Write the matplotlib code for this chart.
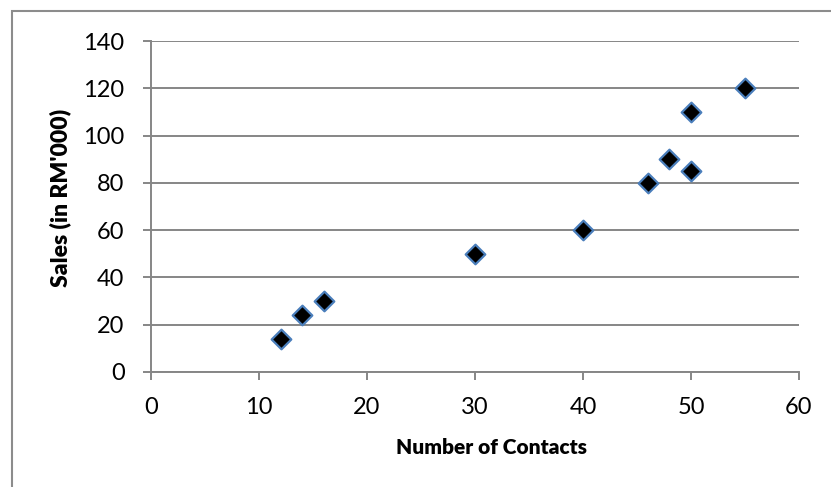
import matplotlib
matplotlib.use("Agg")
import matplotlib.pyplot as plt
import matplotlib.patches as mpatches

# contacts vs. sales
contacts = [12, 14, 16, 30, 40, 46, 48, 50, 50, 55]
sales = [14, 24, 30, 50, 60, 80, 90, 85, 110, 120]

x_ticks = [0, 10, 20, 30, 40, 50, 60]
y_ticks = [0, 20, 40, 60, 80, 100, 120, 140]

GRID = "#868686"

plt.rcParams["font.family"] = ["Lato", "DejaVu Sans"]

fig = plt.figure(figsize=(8.31, 4.87), dpi=100)
ax = fig.add_axes([151 / 831, 1 - 372 / 487, 648 / 831, 331 / 487])

# chart-area frame (open to the right/bottom)
fig.patches.append(mpatches.Rectangle(
    (12 / 831, -0.1), 1.2, 1 - 11 / 487 + 0.1,
    transform=fig.transFigure, fill=False, edgecolor="#8c8c8c",
    linewidth=1.5, zorder=0,
))

ax.scatter(contacts, sales, marker="D", s=100, facecolor="black",
           edgecolor="#4a7ebb", linewidth=1.6, zorder=3)

ax.set_xlim(0, 60)
ax.set_ylim(0, 140)
ax.set_xticks(x_ticks)
ax.set_yticks(y_ticks)
ax.yaxis.grid(True, color=GRID, linewidth=1.4)
ax.set_axisbelow(True)

for side in ("top", "right"):
    ax.spines[side].set_visible(False)
for side in ("left", "bottom"):
    ax.spines[side].set_color(GRID)
    ax.spines[side].set_linewidth(1.4)

ax.tick_params(axis="both", direction="out", length=6, width=1.4,
               color=GRID, labelsize=17, labelcolor="black")
ax.tick_params(axis="x", pad=12)
ax.tick_params(axis="y", pad=13)

ax.set_xlabel("Number of Contacts", fontsize=15, fontweight="heavy", va="center")
ax.xaxis.set_label_coords(0.525, -0.2296)
ax.set_ylabel("Sales (in RM'000)", fontsize=16.5, fontweight="heavy", va="center")
ax.yaxis.set_label_coords(-0.1404, 0.5257)

fig.savefig("out.png", dpi=100)
